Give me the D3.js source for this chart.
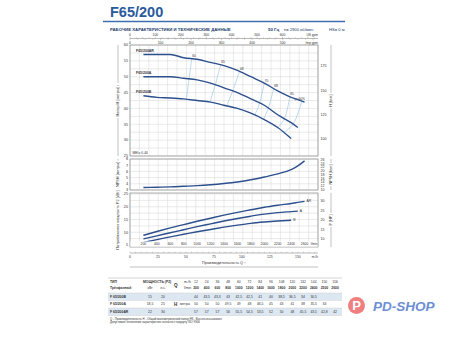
<!DOCTYPE html>
<html><head><meta charset="utf-8">
<script src="https://cdn.jsdelivr.net/npm/d3@7"></script>
<style>body{margin:0;background:#fff}svg{display:block}text{font-family:"Liberation Sans",Arial,sans-serif}</style>
</head><body><svg id="c" width="450" height="337"></svg>
<script>
// ---------- DATA ----------
const flowLmin = [200,400,600,800,1000,1200,1400,1600,1800,2000,2200,2400,2500,2600];
const flowM3h  = [12,24,36,48,60,72,84,96,108,120,132,144,150,156];
const headAR = [57,57,57,56,55.5,54.5,53.5,52,50,48,45.5,43.5,42.8,42];
const headA  = [50,50,50,49.5,49,48,46.5,45,43,41,38,35.5,34];
const headB  = [44,43.5,43.3,43,42.5,42,41,40,38.5,36.5,34,30.5];
const npsh   = [3.4,3.45,3.5,3.6,3.7,3.85,4.05,4.3,4.65,5.1,5.6,6.3,6.9,7.7];
const powerAR = [8.8,10.3,11.7,13,14.3,15.5,16.7,17.8,18.8,19.8,20.6,21.3,21.7,22.1];
const powerA  = [7.4,8.6,9.8,11,12.2,13.3,14.4,15.4,16.3,17.1,17.7,18.1,18.3];
const powerB  = [6,7.1,8.2,9.2,10.2,11.1,12,12.8,13.5,14,14.4,14.7];
const effLabels = ["60","65","68","70","68","65","η= 60%"];
const effQAR = [920,1350,1630,2000,2140,2380,2560];
const effQA  = [880,1270,1530,1930,2060,2300,2430];
const effQB  = [840,1190,1440,1860,1990,2200,2290];
const headTicks = [25,30,35,40,45,50,55,60];
const feetTicks = [100,125,150,175];
const npshTicks = [3,4,5,6,7,8];
const npshFeetTicks = [10,12,14,16,18,20,22,24,26];
const powerTicks = [5,10,15,20,25];
const hpTicks = [10,15,20,25,30];
const usGpmTicks = [0,100,200,300,400,500,600];
const impGpmTicks = [0,100,200,300,400,500];
const lminTicks = [200,400,600,800,1000,1200,1400,1600,1800,2000,2200,2400,2600];
const m3hTicks = [0,25,50,75,100,125,150];
const models = ["F 65/200B","F 65/200A","F 65/200AR"];
const kW = ["15","18,5","22"];
const hp = ["20","25","30"];
const tblB  = ["44","43,5","43,3","43","42,5","42,5","41","40","38,5","36,5","34","30,5","",""];
const tblA  = ["50","50","50","49,5","49","48","46,5","45","43","41","38","35,5","34",""];
const tblAR = ["57","57","57","56","55,5","54,5","53,5","52","50","48","45,5","43,5","42,8","42"];

// ---------- DRAW ----------
const svg = d3.select('#c');
const L=130, R=318;
const blue="#2c4f8e", grid="#d4d4d4", frame="#8a8a8a", txt="#333";
const x = d3.scaleLinear().domain([0,2800]).range([L,R]);
const yH = d3.scaleLinear().domain([25,60]).range([156,45]);
const yN = d3.scaleLinear().domain([3,8]).range([190,159]);
const yP = d3.scaleLinear().domain([5,25]).range([245,194]);

// header
svg.append('text').attr('x',110).attr('y',17).attr('font-size',14.5).attr('font-weight','bold').attr('fill','#2a5a9e').text('F65/200');
svg.append('line').attr('x1',103).attr('x2',345).attr('y1',21.5).attr('y2',21.5).attr('stroke','#3f6fb0').attr('stroke-width',1.6);
svg.append('text').attr('x',110).attr('y',30.5).attr('font-size',4.3).attr('font-weight','bold').attr('fill','#203a6a').text('РАБОЧИЕ ХАРАКТЕРИСТИКИ И ТЕХНИЧЕСКИЕ ДАННЫЕ');
svg.append('text').attr('x',268).attr('y',30.5).attr('font-size',4.4).attr('font-weight','bold').attr('fill','#203a6a').text('50 Гц');
svg.append('text').attr('x',284).attr('y',30.5).attr('font-size',4.1).attr('fill','#203a6a').text('n= 2900 об/мин');
svg.append('text').attr('x',329).attr('y',30.5).attr('font-size',4.1).attr('fill','#203a6a').text('HS= 0 м');

function panel(top,bottom,y,ticks,gridStep,yDom){
  const g=svg.append('g');
  const xs=d3.range(0,2800.1,140);
  g.selectAll('.vx').data(xs).join('line').attr('x1',d=>x(d)).attr('x2',d=>x(d)).attr('y1',top).attr('y2',bottom).attr('stroke',grid).attr('stroke-width',0.5);
  const ys=d3.range(yDom[0],yDom[1]+0.001,gridStep);
  g.selectAll('.hy').data(ys).join('line').attr('x1',L).attr('x2',R).attr('y1',d=>y(d)).attr('y2',d=>y(d)).attr('stroke',grid).attr('stroke-width',0.5);
  g.append('rect').attr('x',L).attr('y',top).attr('width',R-L).attr('height',bottom-top).attr('fill','none').attr('stroke',frame).attr('stroke-width',0.7);
  g.selectAll('.yl').data(ticks).join('text').attr('x',L-2).attr('y',d=>y(d)+1.3).attr('text-anchor','end').attr('font-size',3.8).attr('fill',txt).text(d=>d);
  return g;
}
function sideTitle(xc,top,bottom,label){
  svg.append('line').attr('x1',xc).attr('x2',xc).attr('y1',top).attr('y2',bottom).attr('stroke','#999').attr('stroke-width',0.6);
  const cy=(top+bottom)/2;
  const bg=svg.append('rect').attr('fill','#fff');
  const t=svg.append('text').attr('transform',`translate(${xc+1.3},${cy}) rotate(-90)`).attr('text-anchor','middle').attr('font-size',3.8).attr('fill',txt).text(label);
  const w=t.node().getComputedTextLength();
  bg.attr('x',xc-2.5).attr('y',cy-w/2-1.5).attr('width',5).attr('height',w+3);
}
function rightTicks(vals,y,conv){
  svg.append('g').selectAll('text').data(vals).join('text').attr('x',R+2.5).attr('y',d=>y(conv(d))+1.3).attr('font-size',3.6).attr('fill',txt).text(d=>d);
}

// head panel
panel(45,156,yH,headTicks,2.5,[25,60]);
rightTicks(feetTicks,yH,d=>d*0.3048);
sideTitle(118,45,156,'Напор H [метры]  ↑');
sideTitle(331,45,156,'H [feet]');

const lineGen=(yS,arr)=>d3.line().x((d,i)=>x(flowLmin[i])).y(d=>yS(d)).curve(d3.curveMonotoneX)(arr);
function interp(arr,q){const xs=flowLmin.slice(0,arr.length);return d3.scaleLinear().domain(xs).range(arr)(q);}

// efficiency iso-lines
effLabels.forEach((lab,i)=>{
  const pts=[[x(effQAR[i]),yH(interp(headAR,effQAR[i]))],[x(effQA[i]),yH(interp(headA,effQA[i]))],[x(effQB[i]),yH(interp(headB,effQB[i]))]];
  svg.append('path').attr('d',d3.line().curve(d3.curveCatmullRom)(pts)).attr('fill','none').attr('stroke','#9fcbe3').attr('stroke-width',0.7);
  svg.append('text').attr('x',pts[0][0]+(i==6?-8:0.5)).attr('y',pts[0][1]-1.5).attr('font-size',3.2).attr('fill',txt).text(lab);
});
[[headAR,'F65/200AR'],[headA,'F65/200A'],[headB,'F65/200B']].forEach(([arr,lab])=>{
  svg.append('path').attr('d',lineGen(yH,arr)).attr('fill','none').attr('stroke',blue).attr('stroke-width',1.4);
  svg.append('text').attr('x',136).attr('y',yH(arr[0])-2.5).attr('font-size',3.5).attr('font-weight','bold').attr('fill',txt).text(lab);
});
svg.append('rect').attr('x',131.5).attr('y',150.5).attr('width',18).attr('height',4.5).attr('fill','#fff');
svg.append('text').attr('x',132.5).attr('y',154).attr('font-size',3.4).attr('fill',txt).text('MEI≥ 0.40');

// top axis
const usX=d=>x(d*3.785), impX=d=>x(d*4.546);
svg.append('line').attr('x1',L).attr('x2',R).attr('y1',38.5).attr('y2',38.5).attr('stroke',frame).attr('stroke-width',0.6);
svg.append('g').selectAll('line').data(d3.range(0,740,25)).join('line').attr('x1',usX).attr('x2',usX).attr('y1',38.5).attr('y2',d=>d%100?37.3:36.6).attr('stroke',frame).attr('stroke-width',0.4);
svg.append('g').selectAll('line').data(d3.range(0,615,25)).join('line').attr('x1',impX).attr('x2',impX).attr('y1',38.5).attr('y2',d=>d%100?39.7:40.4).attr('stroke',frame).attr('stroke-width',0.4);
svg.append('g').selectAll('text').data(usGpmTicks).join('text').attr('x',usX).attr('y',35.6).attr('text-anchor','middle').attr('font-size',3.4).attr('fill',txt).text(d=>d);
svg.append('g').selectAll('text').data(impGpmTicks).join('text').attr('x',impX).attr('y',43.8).attr('text-anchor','middle').attr('font-size',3.4).attr('fill',txt).text(d=>d);
svg.append('text').attr('x',R).attr('y',35.6).attr('text-anchor','end').attr('font-size',3.2).attr('fill',txt).text('US gpm');
svg.append('text').attr('x',R).attr('y',43.8).attr('text-anchor','end').attr('font-size',3.2).attr('fill',txt).text('Imp gpm');

// NPSH panel
panel(159,190,yN,npshTicks,1,[3,8]);
rightTicks(npshFeetTicks,yN,d=>d*0.3048);
sideTitle(118,159,190,'NPSH [метры]');
sideTitle(331,159,190,'NPSH [feet]');
svg.append('path').attr('d',lineGen(yN,npsh)).attr('fill','none').attr('stroke',blue).attr('stroke-width',1.4);

// Power panel
panel(193,247,yP,powerTicks,2.5,[5,25]);
rightTicks(hpTicks,yP,d=>d*0.7457);
sideTitle(118,193,247,'Потребляемая мощность P2 [кВт]');
sideTitle(331,193,247,'P [HP]');
[[powerAR,'AR'],[powerA,'A'],[powerB,'B']].forEach(([arr,lab])=>{
  svg.append('path').attr('d',lineGen(yP,arr)).attr('fill','none').attr('stroke',blue).attr('stroke-width',1.4);
  const n=arr.length-1;
  svg.append('text').attr('x',x(flowLmin[n])+2).attr('y',yP(arr[n])+1).attr('font-size',3.4).attr('fill',txt).text(lab);
});
svg.append('rect').attr('x',L+0.5).attr('y',241.5).attr('width',R-L-1).attr('height',5).attr('fill','#fff');
svg.append('g').selectAll('text').data(lminTicks).join('text').attr('x',x).attr('y',245.3).attr('text-anchor','middle').attr('font-size',3.4).attr('fill',txt).text(d=>d);
svg.append('text').attr('x',x(2800)-0.5).attr('y',245.3).attr('text-anchor','end').attr('font-size',3.2).attr('fill',txt).text('l/min');

// bottom axis
const m3X=d=>x(d*1000/60);
svg.append('line').attr('x1',L).attr('x2',R).attr('y1',253).attr('y2',253).attr('stroke',frame).attr('stroke-width',0.6);
svg.append('g').selectAll('line').data(d3.range(0,166,5)).join('line').attr('x1',m3X).attr('x2',m3X).attr('y1',251.8).attr('y2',253).attr('stroke',frame).attr('stroke-width',0.4);
svg.append('g').selectAll('text').data(m3hTicks).join('text').attr('x',m3X).attr('y',257.5).attr('text-anchor','middle').attr('font-size',3.4).attr('fill',txt).text(d=>d);
svg.append('text').attr('x',R).attr('y',257.5).attr('text-anchor','end').attr('font-size',3.2).attr('fill',txt).text('m³/h');
svg.append('text').attr('x',224).attr('y',264).attr('text-anchor','middle').attr('font-size',3.8).attr('fill',txt).text('Производительность Q  ↑');
svg.append('line').attr('x1',L).attr('x2',R).attr('y1',267).attr('y2',267).attr('stroke','#999').attr('stroke-width',0.6);

// table
const colX=i=>196+i*10.7;
svg.append('line').attr('x1',108).attr('x2',342).attr('y1',278).attr('y2',278).attr('stroke','#aaa').attr('stroke-width',0.5);
[[293,'#dce7f2'],[300.5,'#fff'],[308,'#dce7f2']].forEach(([yy,c])=>svg.append('rect').attr('x',108).attr('y',yy).attr('width',234).attr('height',7.5).attr('fill',c));
[293,300.5,308,315.5].forEach(yy=>svg.append('line').attr('x1',108).attr('x2',342).attr('y1',yy).attr('y2',yy).attr('stroke','#c8c8c8').attr('stroke-width',0.4));
const T=(xx,yy,s,o={})=>svg.append('text').attr('x',xx).attr('y',yy).attr('font-size',o.fs||3.4).attr('font-weight',o.b?'bold':'normal').attr('text-anchor',o.a||'start').attr('fill',txt).text(s);
T(110,283,'ТИП',{b:1});T(143,283,'МОЩНОСТЬ (P2)',{b:1});
T(110,289,'Трёхфазный',{b:1});T(150,289,'кВт',{a:'middle'});T(163,289,'л.с.',{a:'middle'});
T(174,286.5,'Q',{b:1,fs:4.5});T(184,283,'m³/h');T(184,289,'l/min');
T(174,305.5,'H',{b:1,fs:4.5});T(180,305,'метры');
flowM3h.forEach((d,i)=>T(colX(i),283,d,{a:'middle'}));
flowLmin.forEach((d,i)=>T(colX(i),289,d,{a:'middle',b:1}));
models.forEach((m,r)=>{const yy=297.7+r*7.5;T(110,yy,m,{b:1});T(150,yy,kW[r],{a:'middle'});T(163,yy,hp[r],{a:'middle'});
  [tblB,tblA,tblAR][r].forEach((v,i)=>T(colX(i),yy,v,{a:'middle'}));});
T(110,319.5,'Q - Производительность   H - Общий манометрический напор   HS - Высота всасывания',{fs:2.8});
T(110,323,'Допустимое отклонение характеристик согласно стандарту ISO 9906',{fs:2.8});

// logo
svg.append('circle').attr('cx',356.5).attr('cy',305.5).attr('r',8.5).attr('fill','#f07f7f');
svg.append('text').attr('x',356.5).attr('y',310).attr('text-anchor','middle').attr('font-size',13).attr('font-weight','bold').attr('fill','#fff').text('P');
svg.append('text').attr('x',373).attr('y',311).attr('font-size',13.5).attr('font-weight','bold').attr('font-style','italic').attr('fill','#6d8fd3').text('PD-SHOP');
</script></body></html>
